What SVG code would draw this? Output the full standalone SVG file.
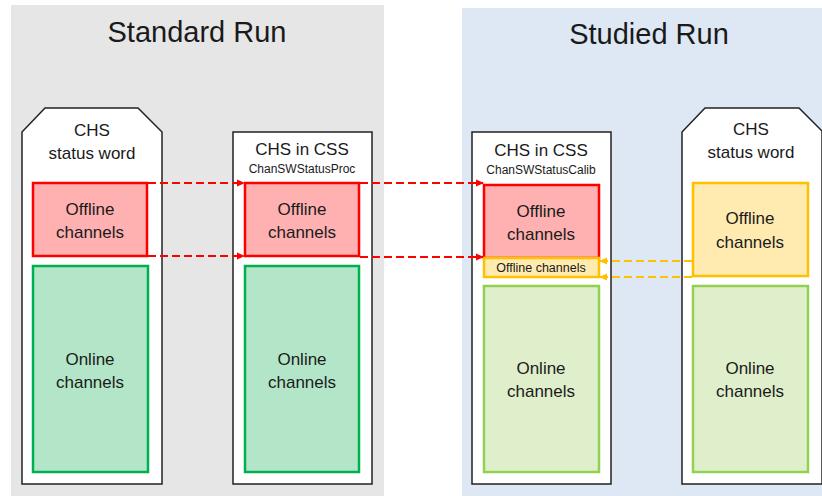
<svg xmlns="http://www.w3.org/2000/svg" width="822" height="496" viewBox="0 0 822 496">
<defs>
<style>
text{font-family:"Liberation Sans",Arial,sans-serif;fill:#1a1a1a;text-anchor:middle}
.title{font-size:29px}
.t{font-size:17px}
.s{font-size:12px}
.s2{font-size:12.5px}
.node{fill:#fff;stroke:#222;stroke-width:1.5}
.red{fill:#ffb0b0;stroke:#ff0000;stroke-width:2.5}
.grn{fill:#b3e6c8;stroke:#00b050;stroke-width:2.5}
.lgrn{fill:#e0efcb;stroke:#92d050;stroke-width:2.5}
.yel{fill:#ffeab0;stroke:#ffc000;stroke-width:2.5}
.ra{fill:none;stroke:#ff0000;stroke-width:2;stroke-dasharray:8,4}
.ya{fill:none;stroke:#ffc000;stroke-width:2;stroke-dasharray:8,4}
</style>
<marker id="mr" markerWidth="8" markerHeight="8" refX="7" refY="4" orient="auto" markerUnits="userSpaceOnUse"><path d="M0,0.5 L8,4 L0,7.5 Z" fill="#ff0000"/></marker>
<marker id="my" markerWidth="8" markerHeight="8" refX="7" refY="4" orient="auto" markerUnits="userSpaceOnUse"><path d="M0,0.5 L8,4 L0,7.5 Z" fill="#ffc000"/></marker>
</defs>
<rect width="822" height="496" fill="#fff"/>
<rect x="11" y="5" width="373" height="491" fill="#e6e6e6"/>
<rect x="462" y="8" width="360" height="488" fill="#dde8f4"/>
<text class="title" x="197" y="42">Standard Run</text>
<text class="title" x="649" y="44">Studied Run</text>

<g id="std-chs">
<path class="node" d="M45,108 L138,108 L162,132 L162,484 L22,484 L22,132 Z"/>
<text class="t" x="92" y="136">CHS</text>
<text class="t" x="92" y="159">status word</text>
<rect class="red" x="33" y="183" width="114" height="73"/>
<text class="t" x="90" y="215">Offline</text>
<text class="t" x="90" y="238">channels</text>
<rect class="grn" x="33" y="266" width="115" height="206"/>
<text class="t" x="90" y="365">Online</text>
<text class="t" x="90" y="388">channels</text>
</g>

<g id="std-css">
<rect class="node" x="233" y="132" width="139" height="352"/>
<text class="t" x="302" y="155">CHS in CSS</text>
<text class="s" x="302" y="173">ChanSWStatusProc</text>
<rect class="red" x="245" y="183" width="114" height="73"/>
<text class="t" x="302" y="215">Offline</text>
<text class="t" x="302" y="238">channels</text>
<rect class="grn" x="245" y="266" width="114" height="206"/>
<text class="t" x="302" y="365">Online</text>
<text class="t" x="302" y="388">channels</text>
</g>

<g id="stu-css">
<rect class="node" x="472" y="132" width="139" height="352"/>
<text class="t" x="541" y="156">CHS in CSS</text>
<text class="s" x="541" y="174">ChanSWStatusCalib</text>
<rect class="red" x="484" y="185" width="115" height="73"/>
<text class="t" x="541" y="217">Offline</text>
<text class="t" x="541" y="240">channels</text>
<rect class="yel" x="484" y="258" width="115" height="19"/>
<text class="s2" x="541" y="272">Offline channels</text>
<rect class="lgrn" x="484" y="286" width="115" height="186"/>
<text class="t" x="541" y="374">Online</text>
<text class="t" x="541" y="397">channels</text>
</g>

<g id="stu-chs">
<path class="node" d="M705,108 L799,108 L822,131 L822,484 L682,484 L682,132 Z"/>
<text class="t" x="751" y="135">CHS</text>
<text class="t" x="751" y="158">status word</text>
<rect class="yel" x="693" y="183" width="115" height="93"/>
<text class="t" x="750" y="224">Offline</text>
<text class="t" x="750" y="248">channels</text>
<rect class="lgrn" x="693" y="286" width="115" height="186"/>
<text class="t" x="750" y="374">Online</text>
<text class="t" x="750" y="397">channels</text>
</g>

<g id="connectors">
<path class="ra" d="M148,183 L244,183" marker-end="url(#mr)"/>
<path class="ra" d="M148,256 L244,256" marker-end="url(#mr)"/>
<path class="ra" d="M360,183 L483,183" marker-end="url(#mr)"/>
<path class="ra" d="M360,257 L483,257" marker-end="url(#mr)"/>
<path class="ya" d="M692,261 L600,261" marker-end="url(#my)"/>
<path class="ya" d="M692,277 L600,277" marker-end="url(#my)"/>
</g>
</svg>
